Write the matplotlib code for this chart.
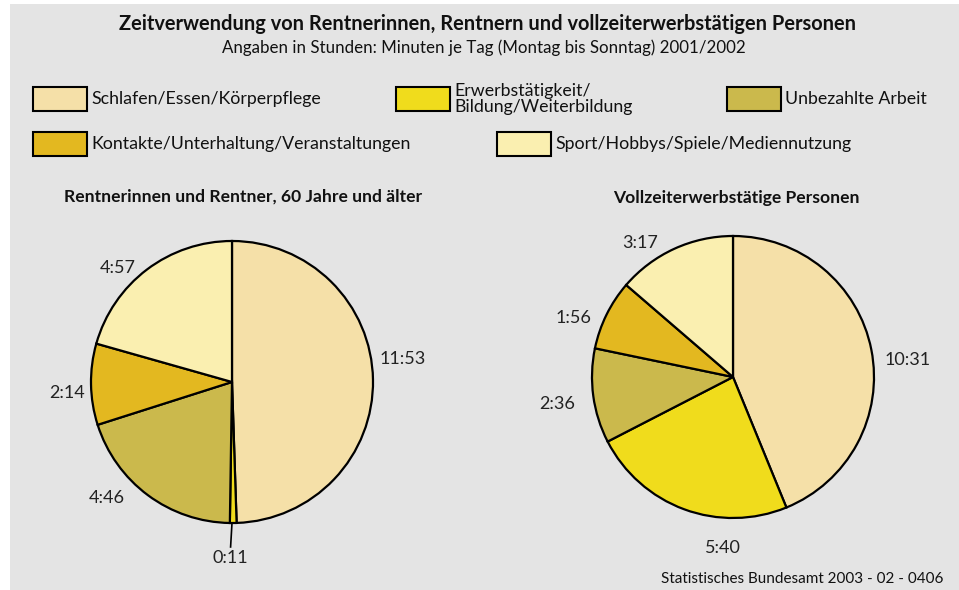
import numpy as np
import matplotlib
matplotlib.use("Agg")
import matplotlib.pyplot as plt
from matplotlib.patches import Rectangle

plt.rcParams['font.family'] = ['Lato', 'DejaVu Sans']

W, H = 959, 590

categories = ["Schlafen/Essen/Körperpflege",
              "Erwerbstätigkeit/\nBildung/Weiterbildung",
              "Unbezahlte Arbeit",
              "Kontakte/Unterhaltung/Veranstaltungen",
              "Sport/Hobbys/Spiele/Mediennutzung"]
colors = ["#f5e0a8", "#f0dc1c", "#cbb94c", "#e3b820", "#faefb0"]

# hours:minutes per day
rentner = ["11:53", "0:11", "4:46", "2:14", "4:57"]
vollzeit = ["10:31", "5:40", "2:36", "1:56", "3:17"]


def to_minutes(values):
    return [int(v.split(":")[0]) * 60 + int(v.split(":")[1]) for v in values]


def px(x, y):
    return x / W, 1 - y / H


fig = plt.figure(figsize=(W / 100, H / 100), dpi=100)
fig.patch.set_facecolor("white")
fig.add_artist(Rectangle(px(10, 590), (W - 10) / W, 586 / H,
                         transform=fig.transFigure, facecolor="#e4e4e4",
                         edgecolor="none", zorder=0))

fig.text(*px(487, 24), "Zeitverwendung von Rentnerinnen, Rentnern und vollzeiterwerbstätigen Personen",
         ha="center", va="center", fontsize=14.4, fontweight="bold", color="#111111")
fig.text(*px(484, 48), "Angaben in Stunden: Minuten je Tag (Montag bis Sonntag) 2001/2002",
         ha="center", va="center", fontsize=12.2, color="#111111")

# legend
legend_boxes = [(33, 87), (396, 87), (727, 87), (33, 132), (497, 132)]
for (bx, by), name, col in zip(legend_boxes, categories, colors):
    fig.add_artist(Rectangle(px(bx, by + 24), 54 / W, 24 / H, transform=fig.transFigure,
                             facecolor=col, edgecolor="black", linewidth=1.5, zorder=2))
    fig.text(*px(bx + 58, by + 12), name, ha="left", va="center", fontsize=12.8,
             color="#111111", linespacing=1.05)

fig.text(*px(943, 579), "Statistisches Bundesamt 2003 - 02 - 0406", ha="right",
         va="center", fontsize=11, color="#111111")

R = 141
pies = [
    ("Rentnerinnen und Rentner, 60 Jahre und älter", rentner, (232, 382), (243, 197),
     [(1.21, 0.16), (-0.01, -1.25), (-0.89, -0.82), (-1.17, -0.08), (-0.81, 0.81)]),
    ("Vollzeiterwerbstätige Personen", vollzeit, (733, 377), (736, 198),
     [(1.24, 0.12), (-0.07, -1.21), (-1.25, -0.19), (-1.13, 0.42), (-0.66, 0.95)]),
]

for title, values, (cx, cy), (tx, ty), label_pos in pies:
    side = 3 * R
    x0, y0 = px(cx - side / 2, cy + side / 2)
    ax = fig.add_axes([x0, y0, side / W, side / H])
    ax.pie(to_minutes(values), colors=colors, startangle=90, counterclock=False,
           radius=1, wedgeprops=dict(edgecolor="black", linewidth=1.6))
    ax.set_xlim(-1.5, 1.5)
    ax.set_ylim(-1.5, 1.5)
    ax.set_aspect("equal")
    ax.axis("off")
    for (lx, ly), lab in zip(label_pos, values):
        ax.text(lx, ly, lab, ha="center", va="center", fontsize=13, color="#222222")
    fig.text(*px(tx, ty), title, ha="center", va="center", fontsize=12.6,
             fontweight="bold", color="#111111")

# leader line for the tiny slice
ax_left = fig.axes[0]
ax_left.plot([0.0, -0.01], [-1.0, -1.17], color="black", linewidth=1.2)

fig.savefig("out.png", dpi=100, facecolor=fig.get_facecolor())
